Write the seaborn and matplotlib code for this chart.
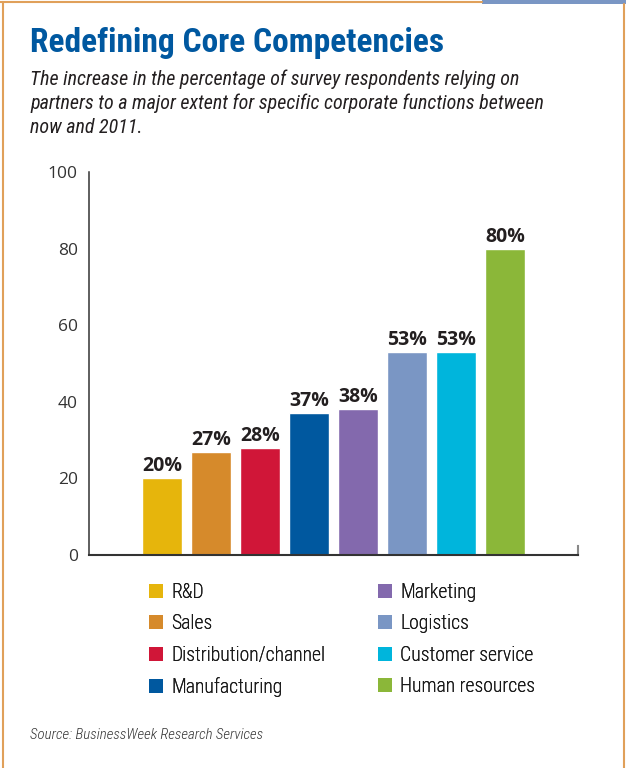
import matplotlib
matplotlib.use("Agg")
import matplotlib.pyplot as plt
import seaborn as sns
import pandas as pd
from matplotlib.patches import Patch, Rectangle
from matplotlib.lines import Line2D

functions = ["R&D", "Sales", "Distribution/channel", "Manufacturing",
             "Marketing", "Logistics", "Customer service", "Human resources"]
values = [20, 27, 28, 37, 38, 53, 53, 80]
colors = ["#E6B50C", "#D68A2B", "#D01638", "#00589F",
          "#8369AD", "#7A96C4", "#00B5DC", "#8BB739"]
yticks = [0, 20, 40, 60, 80, 100]

title = "Redefining Core Competencies"
subtitle = ["The increase in the percentage of survey respondents relying on",
            "partners to a major extent for specific corporate functions between",
            "now and 2011."]
source = "Source: BusinessWeek Research Services"

df = pd.DataFrame({"function": functions, "pct": values})

sns.set_theme(style="white")
narrow = ["Roboto Condensed", "Roboto", "DejaVu Sans"]
plt.rcParams["font.family"] = ["Open Sans", "DejaVu Sans"]

W, H = 626, 768
fig = plt.figure(figsize=(W / 100, H / 100), dpi=100)
renderer = fig.canvas.get_renderer()


def px(x, y):
    return x / W, 1 - y / H


def fit(t, width):
    # scale the font so that the text is as wide as in the original
    w = t.get_window_extent(renderer).width
    t.set_fontsize(t.get_fontsize() * width / w)
    return t.get_fontsize()


ax = fig.add_axes([89 / W, 1 - 555 / H, 489 / W, 383 / H])

sns.barplot(data=df, x="function", y="pct", hue="function", palette=colors,
            legend=False, width=0.816, saturation=1, ax=ax)

for cont in ax.containers:
    ax.bar_label(cont, fmt="%d%%", padding=1.5, fontsize=14, fontweight="bold",
                 color="#231f20")

ax.set_xlim(-1.49, 8.49)
ax.set_ylim(0, 100)
ax.set_yticks(yticks)
ax.set_yticklabels([str(t) for t in yticks], fontsize=12.5, color="#333333")
ax.tick_params(axis="y", length=0, pad=8)
ax.set_xticks([])
ax.set_xlabel("")
ax.set_ylabel("")
ax.spines["top"].set_visible(False)
ax.spines["left"].set_color("#333333")
ax.spines["bottom"].set_color("#333333")
ax.spines["left"].set_linewidth(1.1)
ax.spines["bottom"].set_linewidth(1.5)
ax.spines["right"].set_bounds(0, 2.4)
ax.spines["right"].set_color("#888888")
ax.spines["right"].set_linewidth(1.5)

# titles
t = fig.text(*px(30, 52), title, fontsize=22, fontweight="bold",
             color="#0058A0", family=narrow, va="baseline")
fit(t, 415)

sub = []
for i, line in enumerate(subtitle):
    sub.append(fig.text(*px(30, 85 + 24 * i), line, fontsize=14, style="italic",
                        color="#231f20", family=narrow, va="baseline"))
fs = fit(sub[0], 492)
for s in sub[1:]:
    s.set_fontsize(fs)

t = fig.text(*px(30, 739), source, fontsize=11, style="italic", weight="light",
             color="#333333", family=narrow, va="baseline")
fit(t, 232)

# legend: two columns of four
tmp = fig.text(0, 0, functions[2], fontsize=14, family=narrow, weight="light")
lfs = fit(tmp, 156)
tmp.remove()
handles = [Patch(facecolor=c, edgecolor="none") for c in colors]
row_px = 32
h_px = lfs * 100 / 72
for col, xl in enumerate([149, 378]):
    leg = fig.legend(handles[col * 4:(col + 1) * 4], functions[col * 4:(col + 1) * 4],
                     loc="upper left", bbox_to_anchor=px(xl, 590 - row_px / 2 + 8.5),
                     frameon=False,
                     prop={"family": narrow, "size": lfs, "weight": "light"},
                     handlelength=14 / h_px, handleheight=14 / h_px,
                     handletextpad=8 / h_px,
                     labelspacing=(row_px - 1.17 * h_px + 3.8) / h_px,
                     borderpad=0, borderaxespad=0)
    for txt in leg.get_texts():
        txt.set_color("#1a1a1a")
    fig.add_artist(leg)

# frame around the graphic
orange = "#E0A05A"
fig.add_artist(Line2D([2.5 / W, 2.5 / W], [0, 1 - 2 / H],
                      transform=fig.transFigure, color=orange, lw=1.5))
fig.add_artist(Line2D([623.5 / W, 623.5 / W], [0, 1 - 4 / H],
                      transform=fig.transFigure, color=orange, lw=1.5))
fig.add_artist(Line2D([0, 482 / W], [1 - 2 / H, 1 - 2 / H],
                      transform=fig.transFigure, color=orange, lw=1.5))
fig.add_artist(Rectangle((482 / W, 1 - 4 / H), 144 / W, 4 / H,
                         transform=fig.transFigure, color="#7A96C4", lw=0))

fig.savefig("out.png", dpi=100)
